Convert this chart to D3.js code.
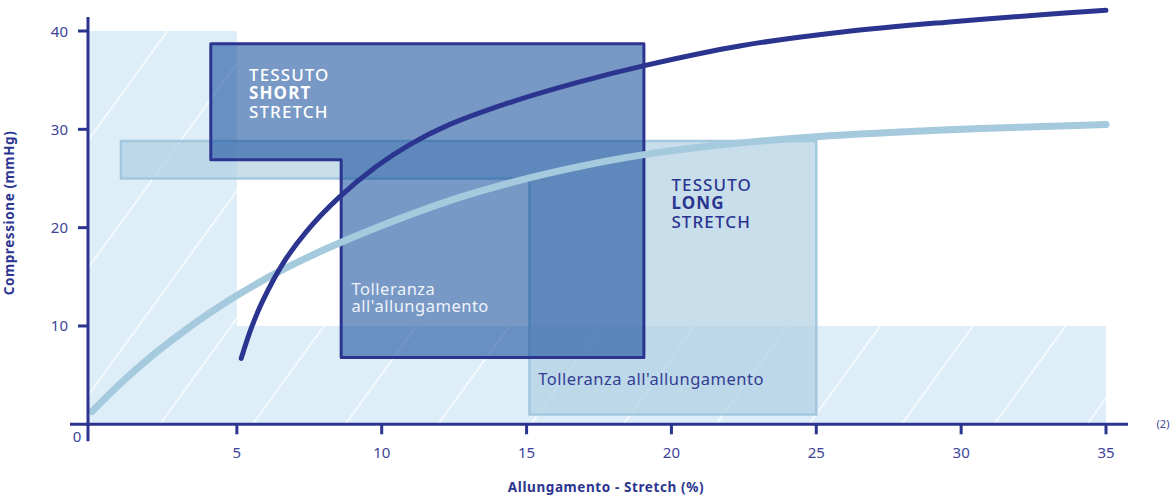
<!DOCTYPE html>
<html>
<head>
<meta charset="utf-8">
<script src="https://cdn.jsdelivr.net/npm/d3@7"></script>
<style>
body { margin: 0; background: #fff; }
text { font-family: "Noto Sans", sans-serif; }
</style>
</head>
<body>
<svg width="1173" height="498"></svg>
<script>
(function() {
    const svg = d3.select('svg')

    // --- data ---
    const xTicks = [5, 10, 15, 20, 25, 30, 35]
    const yTicks = [10, 20, 30, 40]

    // curva tessuto short stretch
    const shortCurve = [
        [5.15, 6.7], [5.5, 9.8], [5.9, 12.6], [6.6, 16.4], [7.4, 19.6], [8.5, 23.0],
        [9.8, 26.2], [11, 28.5], [12.2, 30.3], [14.5, 32.8], [16.8, 34.8], [19.1, 36.5],
        [22.4, 38.5], [25.9, 39.9], [29.5, 40.9], [33, 41.7], [35, 42.1]
    ]
    // curva tessuto long stretch
    const longCurve = [
        [0, 1.3], [1, 4.2], [2, 6.8], [3, 9.1], [4, 11.2], [5, 13.1],
        [6.5, 15.6], [8.2, 18.0], [9.9, 20.1], [12.2, 22.6], [14.5, 24.6], [16.8, 26.2],
        [19, 27.4], [22, 28.5], [25, 29.25], [30, 30.0], [35, 30.5]
    ]
    const shortBox = [[4.1, 38.7], [19.05, 38.7], [19.05, 6.8], [8.6, 6.8], [8.6, 26.9], [4.1, 26.9]]
    const longBox = [[1.0, 28.8], [25, 28.8], [25, 1.0], [15.1, 1.0], [15.1, 25], [1.0, 25]]
    const zone = [[-0.14, 0], [-0.14, 40], [5, 40], [5, 10], [35, 10], [35, 0]]

    const shortLabel = [['TESSUTO', 500], ['SHORT', 700], ['STRETCH', 500]]
    const longLabel = [['TESSUTO', 500], ['LONG', 700], ['STRETCH', 500]]
    const tolShort = ['Tolleranza', "all'allungamento"]
    const tolLong = "Tolleranza all'allungamento"

    const dark = '#2b3590'
    const tickColor = '#3d4499'

    const x = d3.scaleLinear().domain([0, 35]).range([92, 1106])
    const y = d3.scaleLinear().domain([0, 40]).range([424.3, 31])

    const poly = d3.line().x(d => x(d[0])).y(d => y(d[1]))
    const closed = pts => poly(pts) + 'Z'

    // tratteggio di sfondo
    const defs = svg.append('defs')
    const pat = defs.append('pattern')
        .attr('id', 'hatch')
        .attr('patternUnits', 'userSpaceOnUse')
        .attr('width', 75).attr('height', 75)
        .attr('patternTransform', 'translate(160,423) rotate(36)')
    pat.append('rect').attr('width', 75).attr('height', 75).attr('fill', '#deeef8')
    pat.append('line')
        .attr('x1', 0).attr('y1', 0).attr('x2', 0).attr('y2', 75)
        .attr('stroke', '#fff').attr('stroke-width', 2.5)

    svg.append('path')
        .attr('d', closed(zone))
        .attr('fill', 'url(#hatch)')

    // long stretch
    svg.append('path')
        .attr('d', closed(longBox))
        .attr('fill', 'rgb(170,205,225)')
        .attr('fill-opacity', 0.65)
        .attr('stroke', '#a3c8dd')
        .attr('stroke-width', 2.5)

    // short stretch
    svg.append('path')
        .attr('d', closed(shortBox))
        .attr('fill', 'rgb(10,68,150)')
        .attr('fill-opacity', 0.55)
        .attr('stroke', dark)
        .attr('stroke-width', 3)
        .attr('stroke-linejoin', 'round')

    const curve = d3.line()
        .x(d => x(d[0])).y(d => y(d[1]))
        .curve(d3.curveCatmullRom.alpha(0.5))

    svg.append('path')
        .attr('d', curve(longCurve))
        .attr('fill', 'none')
        .attr('stroke', '#a5c9dd')
        .attr('stroke-width', 7)
        .attr('stroke-linecap', 'round')

    svg.append('path')
        .attr('d', curve(shortCurve))
        .attr('fill', 'none')
        .attr('stroke', dark)
        .attr('stroke-width', 5)
        .attr('stroke-linecap', 'round')

    // assi
    const axisX0 = x(0) - 4
    svg.append('line')
        .attr('x1', axisX0).attr('x2', axisX0)
        .attr('y1', y(40) - 14).attr('y2', y(0) + 17)
        .attr('stroke', dark).attr('stroke-width', 3)
    svg.append('line')
        .attr('x1', axisX0 - 18).attr('x2', x(35) + 22)
        .attr('y1', y(0)).attr('y2', y(0))
        .attr('stroke', dark).attr('stroke-width', 3)

    svg.append('g').selectAll('line')
        .data(yTicks).enter().append('line')
        .attr('x1', axisX0 - 10).attr('x2', axisX0)
        .attr('y1', d => y(d)).attr('y2', d => y(d))
        .attr('stroke', dark).attr('stroke-width', 3)
    svg.append('g').selectAll('text')
        .data(yTicks).enter().append('text')
        .attr('x', axisX0 - 20).attr('y', d => y(d) + 5.5)
        .attr('text-anchor', 'end')
        .attr('font-size', 15).attr('fill', tickColor)
        .text(d => d)

    svg.append('g').selectAll('line')
        .data(xTicks).enter().append('line')
        .attr('x1', d => x(d)).attr('x2', d => x(d))
        .attr('y1', y(0)).attr('y2', y(0) + 10)
        .attr('stroke', dark).attr('stroke-width', 3)
    svg.append('g').selectAll('text')
        .data(xTicks).enter().append('text')
        .attr('x', d => x(d)).attr('y', y(0) + 34)
        .attr('text-anchor', 'middle')
        .attr('font-size', 15).attr('fill', tickColor)
        .text(d => d)

    svg.append('text')
        .attr('x', axisX0 - 11).attr('y', y(0) + 18)
        .attr('text-anchor', 'middle')
        .attr('font-size', 15).attr('fill', tickColor)
        .text('0')

    svg.append('text')
        .attr('x', 1163).attr('y', y(0) + 4)
        .attr('text-anchor', 'middle')
        .attr('font-size', 11).attr('fill', tickColor)
        .text('(2)')

    svg.append('text')
        .attr('x', 606).attr('y', 492)
        .attr('text-anchor', 'middle')
        .attr('font-size', 13.5).attr('font-weight', 700).attr('fill', dark)
        .attr('letter-spacing', 0.6)
        .text('Allungamento - Stretch (%)')

    svg.append('text')
        .attr('transform', 'translate(14,213) rotate(-90)')
        .attr('text-anchor', 'middle')
        .attr('font-size', 13.5).attr('font-weight', 700).attr('fill', dark)
        .attr('letter-spacing', 0.6)
        .text('Compressione (mmHg)')

    // etichette su più righe
    const multiline = (lines, px, py, step, opts) => {
        const t = svg.append('text')
            .attr('x', px).attr('y', py)
            .attr('font-size', opts.size)
            .attr('letter-spacing', opts.spacing)
            .attr('fill', opts.fill)
        t.selectAll('tspan')
            .data(lines).enter().append('tspan')
            .attr('x', px)
            .attr('dy', (d, i) => i === 0 ? 0 : step)
            .attr('font-weight', d => Array.isArray(d) ? d[1] : 400)
            .text(d => Array.isArray(d) ? d[0] : d)
    }

    multiline(shortLabel, x(5.42), 81, 18.3, { size: 17, spacing: 1.1, fill: '#fff' })
    multiline(longLabel, x(20), 191, 18.3, { size: 17, spacing: 1.1, fill: dark })
    multiline(tolShort, x(8.96), 295, 16.5, { size: 16.5, spacing: 0.5, fill: '#eef3fa' })

    svg.append('text')
        .attr('x', x(15.4)).attr('y', 385)
        .attr('font-size', 16.5).attr('letter-spacing', 0.5)
        .attr('fill', '#333d93')
        .text(tolLong)
})()
</script>
</body>
</html>
